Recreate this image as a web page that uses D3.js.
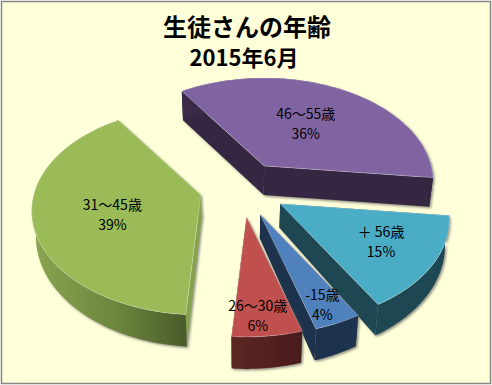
<!DOCTYPE html>
<html>
<head>
<meta charset="utf-8">
<script src="https://cdn.jsdelivr.net/npm/d3@7"></script>
<style>
html, body { margin: 0; padding: 0; background: #fff; }
svg { display: block; }
text { font-family: "Noto Sans CJK JP", sans-serif; fill: #000; }
</style>
</head>
<body>
<svg id="chart"></svg>
<script>
const labels = ["46～55歳", "＋ 56歳", "-15歳", "26～30歳", "31～45歳"];
const values = [36.2, 14.7, 3.9, 5.8, 39.4];
const titleLines = ["生徒さんの年齢", "2015年6月"];

const topColors = ["#8064a2", "#4bacc6", "#4f81bd", "#c0504d", "#9bbb59"];
const sideColors = ["#352842", "#1f4753", "#1f324d", "#4f2020", "#87a24f"];
const explode = [0.27, 0.27, 0.27, 0.27, 0.25];
const labelRadius = [0.51, 0.66, 0.8, 0.85, 0.5];
const labelNudge = [[0, 0], [3, 0], [2, 6], [-6, 0], [-6, 7]];

const width = 492, height = 385;
const cx = 241.5, cy = 188.5;
const rx = 167, ry = 101.5, persp = 0.154;

const svg = d3.select("#chart").attr("width", width).attr("height", height);

svg.append("rect")
    .attr("x", 1.5).attr("y", 1.5)
    .attr("width", width - 3).attr("height", height - 3)
    .attr("fill", "#ffffd9")
    .attr("stroke", "#868686")
    .attr("stroke-width", 1.5);

const defs = svg.append("defs");

const shadow = defs.append("filter").attr("id", "shadow")
    .attr("x", "-10%").attr("y", "-10%").attr("width", "120%").attr("height", "120%");
shadow.append("feDropShadow")
    .attr("dx", 1.5).attr("dy", 1.5).attr("stdDeviation", 1)
    .attr("flood-color", "#555").attr("flood-opacity", 0.65);

function wallGradient(id, stops) {
    const g = defs.append("linearGradient").attr("id", id);
    stops.forEach(([o, c]) => g.append("stop").attr("offset", o).attr("stop-color", c));
}
wallGradient("wall0", [[0, "#3a2c48"], [1, "#32263f"]]);
wallGradient("wall1", [[0, "#1f4753"], [1, "#1f4753"]]);
wallGradient("wall2", [[0, "#1f324d"], [1, "#1f324d"]]);
wallGradient("wall3", [[0, "#5d2725"], [1, "#4a1a1a"]]);
wallGradient("wall4", [[0, "#8aa650"], [0.55, "#6c863d"], [1, "#4a5a2a"]]);

const startDeg = -33.8;
const pie = d3.pie().sort(null)
    .startAngle(startDeg * Math.PI / 180)
    .endAngle((360 + startDeg) * Math.PI / 180);

// local ellipse with a little perspective, near side (v > 0) is bigger
function project(u, v) {
    const w = 1 - persp * v;
    return [rx * u / w, ry * v / w];
}

const line = d3.line();

pie(values).forEach((d, i) => {
    const t0 = d.startAngle - Math.PI / 2;
    const t1 = d.endAngle - Math.PI / 2;
    const mid = (t0 + t1) / 2;

    const [ax, ay] = project(explode[i] * Math.cos(mid), explode[i] * Math.sin(mid));
    const apex = [cx + ax, cy + ay];

    const arcPts = d3.range(0, 61).map(k => {
        const t = t0 + (t1 - t0) * k / 60;
        const [x, y] = project(Math.cos(t), Math.sin(t));
        return { x: apex[0] + x, y: apex[1] + y, v: Math.sin(t) };
    });

    // purple sits further back and keeps a flat depth
    const depth = v => i === 0 ? 29 : 24 + 8 * Math.max(v, 0);
    const down = p => [p.x + (cx - p.x) * 0.02, p.y + depth(p.v)];

    const apexPt = { x: apex[0], y: apex[1], v: 0 };
    const g = svg.append("g");
    const solid = g.append("g").attr("filter", "url(#shadow)");

    [arcPts[0], arcPts[60]].forEach(p => {
        solid.append("path")
            .attr("d", line([apex, [p.x, p.y], down(p), down(apexPt)]) + "Z")
            .attr("fill", sideColors[i]);
    });

    const wall = arcPts.map(p => [p.x, p.y]).concat(arcPts.slice().reverse().map(down));
    solid.append("path")
        .attr("d", line(wall) + "Z")
        .attr("fill", `url(#wall${i})`);

    g.append("path")
        .attr("d", line([apex].concat(arcPts.map(p => [p.x, p.y]))) + "Z")
        .attr("fill", topColors[i])
        .attr("stroke", "#ffffff")
        .attr("stroke-opacity", 0.35)
        .attr("stroke-width", 0.8)
        .attr("stroke-linejoin", "round");
});

// labels go on top of all the slices
pie(values).forEach((d, i) => {
    const t0 = d.startAngle - Math.PI / 2;
    const t1 = d.endAngle - Math.PI / 2;
    const mid = (t0 + t1) / 2;
    const [ax, ay] = project(explode[i] * Math.cos(mid), explode[i] * Math.sin(mid));
    const [lx, ly] = project(labelRadius[i] * Math.cos(mid), labelRadius[i] * Math.sin(mid));
    const x = cx + ax + lx + labelNudge[i][0], y = cy + ay + ly + labelNudge[i][1];

    const text = svg.append("text")
        .attr("text-anchor", "middle")
        .style("font-size", "14px");
    text.append("tspan").attr("x", x).attr("y", y - 5).text(labels[i]);
    text.append("tspan").attr("x", x).attr("y", y + 15).text(d3.format(".0f")(d.value) + "%");
});

svg.append("text")
    .attr("x", 247).attr("y", 36)
    .attr("text-anchor", "middle")
    .style("font-size", "24px")
    .style("font-weight", "bold")
    .text(titleLines[0]);

svg.append("text")
    .attr("x", 244).attr("y", 66)
    .attr("text-anchor", "middle")
    .style("font-size", "22px")
    .style("font-weight", "bold")
    .text(titleLines[1]);
</script>
</body>
</html>
